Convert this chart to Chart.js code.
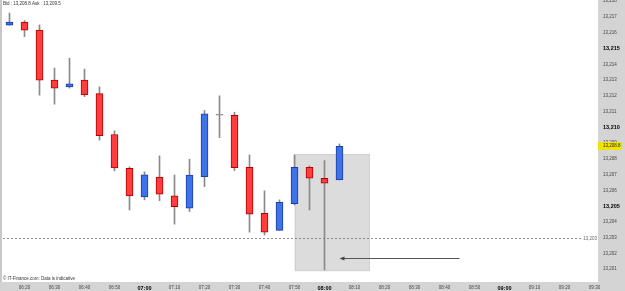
<!DOCTYPE html>
<html>
<head>
<meta charset="utf-8">
<script src="https://cdn.jsdelivr.net/npm/chart.js@4.4.1/dist/chart.umd.min.js"></script>
<style>
html,body{margin:0;padding:0;background:#fff;}
canvas{display:block;}
</style>
</head>
<body>
<canvas id="grafico" width="625" height="291"></canvas>
<script>
// velas de 5 minutos
const horas=['06:15','06:20','06:25','06:30','06:35','06:40','06:45','06:50','06:55','07:00','07:05','07:10',
  '07:15','07:20','07:25','07:30','07:35','07:40','07:45','07:50','07:55','08:00','08:05'];
const aperturas=[13216.48,13216.68,13216.17,13213.00,13212.57,13213.00,13212.14,13209.55,13207.40,13205.59,13206.84,13205.65,
  13204.87,13206.88,13210.77,13210.77,13207.47,13204.55,13203.47,13205.16,13207.47,13206.77,13206.67];
const cierres=[13216.68,13216.17,13213.00,13212.49,13212.76,13212.06,13209.48,13207.43,13205.65,13206.99,13205.76,13204.97,
  13206.97,13210.86,13210.77,13207.45,13204.49,13203.35,13205.25,13207.47,13206.77,13206.46,13208.80];
const maximos=[13217.25,13216.78,13216.50,13213.76,13214.39,13213.69,13212.57,13209.78,13207.49,13207.18,13208.19,13206.98,
  13207.98,13211.07,13212.00,13210.96,13208.25,13205.97,13205.40,13208.25,13207.56,13207.89,13208.95];
const minimos=[13216.48,13215.76,13212.04,13211.47,13212.49,13211.95,13209.19,13207.24,13204.76,13205.40,13205.35,13203.86,
  13204.66,13206.24,13209.35,13207.26,13203.35,13203.18,13203.47,13205.08,13204.76,13200.96,13206.67];

const etiquetasTiempo=['06:20','06:30','06:40','06:50','07:00','07:10','07:20','07:30','07:40','07:50',
  '08:00','08:10','08:20','08:30','08:40','08:50','09:00','09:10','09:20','09:30'];
const etiquetasPrecio=[13201,13202,13203,13204,13205,13206,13207,13208,13209,13210,13211,13212,13213,13214,13215,13216,13217,13218];

const precioBid=13208.8;
const precioAsk=13209.5;
const nivelLinea=13203;
const zonaDesde='07:50', zonaHasta='08:15', zonaArriba=13208.28, zonaAbajo=13200.87;
const flechaDesde='08:45', flechaHasta='08:05', flechaPrecio=13201.74;

const fuente='"Liberation Sans", Arial, sans-serif';

function aMinutos(h){
  const p=h.split(':');
  return Number(p[0])*60+Number(p[1]);
}
function aHora(m){
  const h=Math.floor(m/60), mm=Math.round(m%60);
  return String(h).padStart(2,'0')+':'+String(mm).padStart(2,'0');
}
function conComa(v,dec){
  const s=dec ? v.toFixed(dec) : String(v);
  const partes=s.split('.');
  partes[0]=partes[0].replace(/\B(?=(\d{3})+(?!\d))/g,',');
  return partes.join('.');
}
function sinRelleno(eje){
  eje.paddingTop=0; eje.paddingBottom=0; eje.paddingLeft=0; eje.paddingRight=0;
}

const colorCuerpo=cierres.map((c,i)=> c>aperturas[i] ? '#3d72e8' : (c<aperturas[i] ? '#ff3d3d' : '#8a8a8a'));
const bordeCuerpo=cierres.map((c,i)=> c>aperturas[i] ? '#1b3da6' : (c<aperturas[i] ? '#b00000' : '#8a8a8a'));

const dibujos={
  id:'dibujos',
  beforeDraw(chart){
    const c=chart.ctx, a=chart.chartArea;
    c.save();
    c.fillStyle='#ffffff';
    c.fillRect(0,0,chart.width,chart.height);
    c.fillStyle='#d4d4d4';
    c.fillRect(a.right,0,chart.width-a.right,chart.height);
    c.fillRect(0,a.bottom,chart.width,chart.height-a.bottom);
    c.fillStyle='#c9c9c9';
    c.fillRect(0,0,2,a.bottom);
    c.restore();
  },
  beforeDatasetsDraw(chart){
    const c=chart.ctx, a=chart.chartArea;
    const x=chart.scales.x, y=chart.scales.y;
    c.save();
    // zona gris
    const x1=x.getPixelForValue(aMinutos(zonaDesde)), x2=x.getPixelForValue(aMinutos(zonaHasta));
    const y1=y.getPixelForValue(zonaArriba), y2=y.getPixelForValue(zonaAbajo);
    c.fillStyle='#dcdcdc';
    c.fillRect(x1,y1,x2-x1,y2-y1);
    c.strokeStyle='#d0d0d0';
    c.lineWidth=1;
    c.strokeRect(Math.round(x1)+0.5,Math.round(y1)+0.5,x2-x1-1,y2-y1-1);
    // linea punteada
    const yl=Math.round(y.getPixelForValue(nivelLinea))+0.5;
    c.strokeStyle='#8c8c8c';
    c.setLineDash([2,2]);
    c.beginPath();
    c.moveTo(a.left,yl);
    c.lineTo(a.right-15,yl);
    c.stroke();
    c.setLineDash([]);
    c.fillStyle='#666';
    c.font='4.5px '+fuente;
    c.textAlign='right';
    c.textBaseline='middle';
    c.fillText(conComa(nivelLinea),a.right-1,yl);
    c.restore();
  },
  afterDatasetsDraw(chart){
    const c=chart.ctx;
    const x=chart.scales.x, y=chart.scales.y;
    c.save();
    // flecha
    const fy=Math.round(y.getPixelForValue(flechaPrecio))+0.5;
    const fx1=x.getPixelForValue(aMinutos(flechaDesde)), fx2=x.getPixelForValue(aMinutos(flechaHasta));
    c.strokeStyle='#555';
    c.lineWidth=1;
    c.beginPath();
    c.moveTo(fx1,fy);
    c.lineTo(fx2+3,fy);
    c.stroke();
    c.fillStyle='#444';
    c.beginPath();
    c.moveTo(fx2,fy);
    c.lineTo(fx2+5,fy-2);
    c.lineTo(fx2+5,fy+2);
    c.closePath();
    c.fill();
    // textos
    c.fillStyle='#333';
    c.font='4.5px '+fuente;
    c.textAlign='left';
    c.textBaseline='middle';
    c.fillText('Bid : '+conComa(precioBid,1)+' Ask : '+conComa(precioAsk,1),3,4);
    c.fillText('\u00A9 IT-Finance.com: Data is indicative',3,279);
    c.restore();
  },
  afterDraw(chart){
    const c=chart.ctx, a=chart.chartArea;
    const y=chart.scales.y;
    const ult=cierres[cierres.length-1];
    const py=Math.round(y.getPixelForValue(ult));
    c.save();
    c.fillStyle='#f2e400';
    c.fillRect(a.right,py-4,24,8);
    c.fillStyle='#222';
    c.font='4.5px '+fuente;
    c.textAlign='left';
    c.textBaseline='middle';
    c.fillText(conComa(ult,1),a.right+5,py);
    c.restore();
  }
};

const datosCuerpos=horas.map((h,i)=>({x:aMinutos(h), y:[aperturas[i],cierres[i]]}));
const datosMechas=horas.map((h,i)=>({x:aMinutos(h), y:[minimos[i],maximos[i]]}));

new Chart(document.getElementById('grafico'),{
  type:'bar',
  data:{
    datasets:[
      {
        label:'Cuerpo',
        data:datosCuerpos,
        backgroundColor:colorCuerpo,
        borderColor:bordeCuerpo,
        borderWidth:1,
        borderSkipped:false,
        barThickness:7,
        minBarLength:1,
        grouped:false,
        order:1
      },
      {
        label:'Mecha',
        data:datosMechas,
        backgroundColor:'#8a8a8a',
        borderWidth:0,
        barThickness:1,
        grouped:false,
        order:2
      }
    ]
  },
  options:{
    responsive:false,
    animation:false,
    events:[],
    layout:{padding:{left:3,top:0,right:0,bottom:0}},
    plugins:{legend:{display:false},tooltip:{enabled:false}},
    scales:{
      x:{
        type:'linear',
        offset:false,
        min:372.8333,
        max:571.1667,
        grid:{display:false,drawTicks:false},
        border:{display:false},
        afterBuildTicks:(eje)=>{ eje.ticks=etiquetasTiempo.map(t=>({value:aMinutos(t)})); },
        afterFit:(eje)=>{ eje.height=9; sinRelleno(eje); },
        ticks:{
          autoSkip:false,
          maxRotation:0,
          padding:3,
          color:(ctx)=> ctx.tick && ctx.tick.value%60===0 ? '#000' : '#444',
          font:(ctx)=>({family:fuente, size: ctx.tick && ctx.tick.value%60===0 ? 5.5 : 4.5, weight: ctx.tick && ctx.tick.value%60===0 ? 'bold' : 'normal'}),
          callback:(v)=>aHora(v)
        }
      },
      y:{
        position:'right',
        min:13200.19,
        max:13218.08,
        grid:{display:false,drawTicks:false},
        border:{display:false},
        afterBuildTicks:(eje)=>{ eje.ticks=etiquetasPrecio.map(v=>({value:v})); },
        afterFit:(eje)=>{ eje.width=27; sinRelleno(eje); },
        ticks:{
          padding:5,
          color:(ctx)=> ctx.tick && ctx.tick.value%5===0 ? '#000' : '#444',
          font:(ctx)=>({family:fuente, size: ctx.tick && ctx.tick.value%5===0 ? 5.5 : 4.5, weight: ctx.tick && ctx.tick.value%5===0 ? 'bold' : 'normal'}),
          callback:(v)=>conComa(v)
        }
      }
    }
  },
  plugins:[dibujos]
});
</script>
</body>
</html>
